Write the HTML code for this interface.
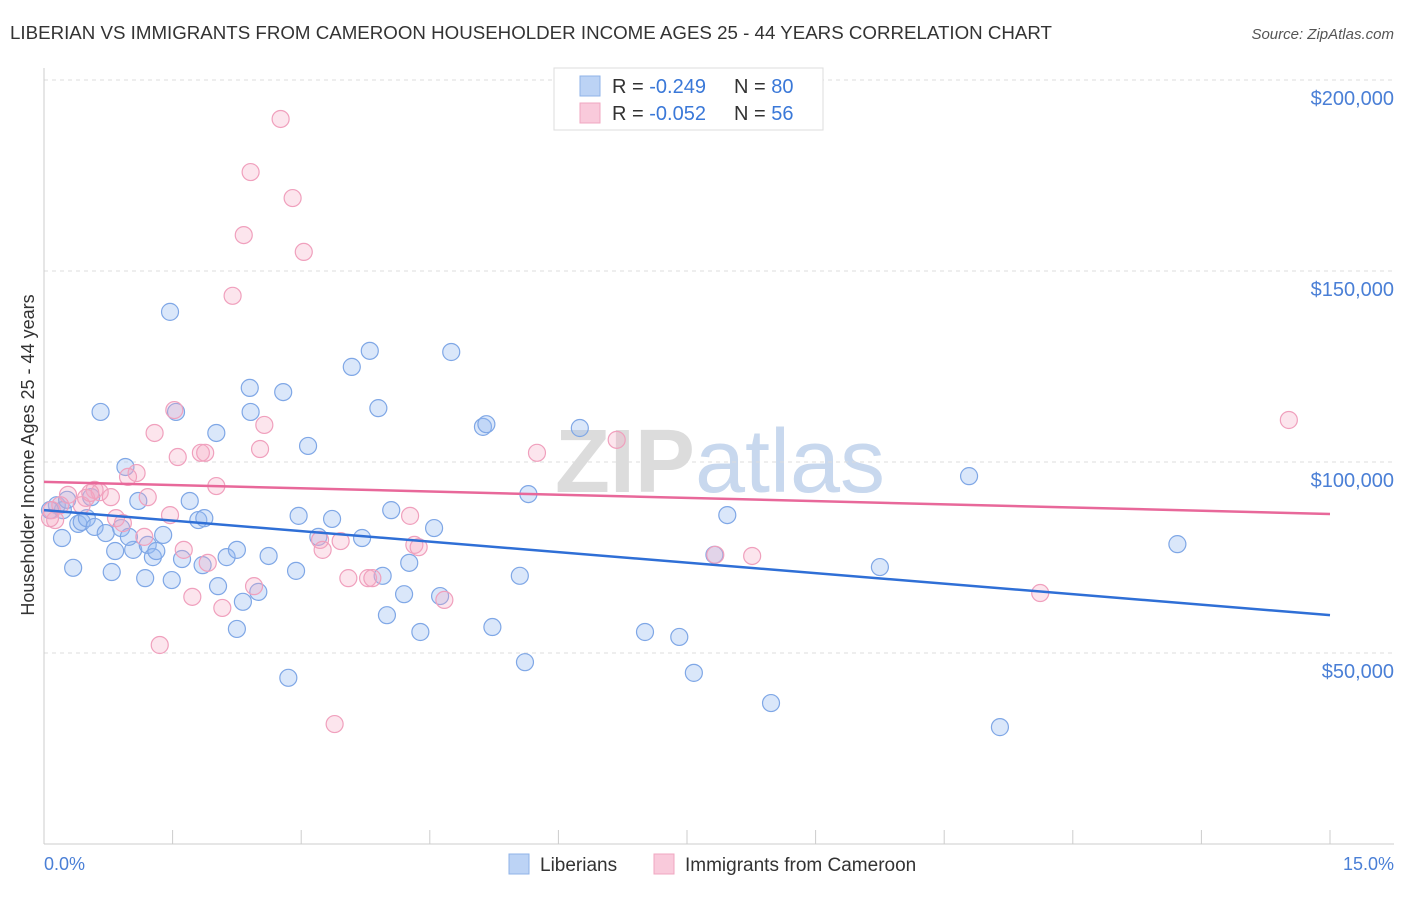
<!DOCTYPE html>
<html><head><meta charset="utf-8"><style>
body{margin:0;background:#fff;font-family:"Liberation Sans",sans-serif;}
svg text{font-family:"Liberation Sans",sans-serif;}
</style></head><body>
<svg id="chart" width="1406" height="892" xmlns="http://www.w3.org/2000/svg">
<text x="10" y="39" font-size="18" fill="#333" textLength="1042" lengthAdjust="spacingAndGlyphs">LIBERIAN VS IMMIGRANTS FROM CAMEROON HOUSEHOLDER INCOME AGES 25 - 44 YEARS CORRELATION CHART</text>
<text x="1394" y="39" font-size="15" fill="#555" font-style="italic" text-anchor="end">Source: ZipAtlas.com</text>
<text x="720" y="492" font-size="90" fill="#e4e4e4" text-anchor="middle" font-family="Liberation Serif"><tspan font-weight="bold" fill="#dcdcdc">ZIP</tspan><tspan fill="#c8d8ee" font-family="Liberation Sans">atlas</tspan></text>
<g id="grid"></g><g id="pts"></g><g id="lines"></g>
<text x="34" y="455" font-size="18" fill="#333" text-anchor="middle" transform="rotate(-90 34 455)">Householder Income Ages 25 - 44 years</text>
<text x="44" y="870" font-size="18" fill="#4a7fd6">0.0%</text>
<text x="1394" y="870" font-size="18" fill="#4a7fd6" text-anchor="end">15.0%</text>
<g>
<rect x="554" y="68" width="269" height="62" fill="#fff" stroke="#ddd"/>
<rect x="580" y="76" width="20" height="20" fill="#bcd3f5" stroke="#8fb3e8"/>
<rect x="580" y="103" width="20" height="20" fill="#f9cadb" stroke="#f0a7c0"/>
<text x="612" y="93" font-size="20" fill="#333">R = <tspan fill="#3a78d8">-0.249</tspan></text>
<text x="734" y="93" font-size="20" fill="#333">N = <tspan fill="#3a78d8">80</tspan></text>
<text x="612" y="120" font-size="20" fill="#333">R = <tspan fill="#3a78d8">-0.052</tspan></text>
<text x="734" y="120" font-size="20" fill="#333">N = <tspan fill="#3a78d8">56</tspan></text>
</g>
<g>
<rect x="509" y="854" width="20" height="20" fill="#bcd3f5" stroke="#8fb3e8"/>
<text x="540" y="871" font-size="19" fill="#333">Liberians</text>
<rect x="654" y="854" width="20" height="20" fill="#f9cadb" stroke="#f0a7c0"/>
<text x="685" y="871" font-size="19" fill="#333">Immigrants from Cameroon</text>
</g>
</svg>
<script>
const yTicks=[50000,100000,150000,200000];
const yTickLabels=["$50,000","$100,000","$150,000","$200,000"];
const blueX=[1.47,0.66,0.95,0.15,0.22,0.27,0.21,0.40,0.44,0.50,0.59,0.55,0.72,0.83,0.79,0.34,0.90,1.04,0.99,1.10,1.18,1.21,1.27,1.31,1.39,1.49,1.54,1.61,1.70,1.80,1.85,1.87,2.01,2.03,2.13,2.25,2.25,2.32,2.40,2.41,2.50,2.62,2.79,2.85,2.94,2.97,3.08,3.20,3.36,3.59,3.71,3.80,3.90,3.95,4.00,4.05,4.20,4.26,4.39,4.55,4.62,4.75,5.12,5.16,5.23,5.55,5.61,5.65,6.25,7.01,7.41,7.58,7.82,7.97,8.48,9.75,10.79,11.15,13.22,0.07];
const blueY=[139.3,113.1,98.7,88.7,87.4,90.1,80.1,83.8,84.3,85.3,83.0,90.8,81.4,76.7,71.2,72.3,82.7,77.0,80.4,89.8,69.6,78.3,75.1,76.7,80.9,69.1,113.1,74.6,89.8,84.8,73.0,85.3,107.6,67.5,75.1,77.0,56.3,63.4,119.4,113.1,66.0,75.4,118.3,43.5,71.5,85.9,104.2,80.4,85.1,124.9,80.1,129.1,114.1,70.2,59.9,87.4,65.4,73.6,55.5,82.7,64.9,128.8,109.2,109.9,56.8,70.2,47.6,91.6,108.9,55.5,54.2,44.8,75.7,86.1,36.9,72.5,96.3,30.6,78.5,87.4];
const pinkX=[2.76,2.41,2.90,2.33,3.03,2.20,1.52,1.29,1.56,1.83,1.88,2.57,2.52,1.08,0.98,0.59,0.65,0.78,0.28,0.19,0.09,0.13,0.49,0.84,0.92,1.21,1.47,1.17,1.63,1.73,1.91,2.01,2.08,2.45,3.22,3.25,3.46,3.55,3.78,3.83,4.27,4.32,4.37,4.67,5.75,6.68,7.83,8.26,11.62,14.52,3.39,1.35,0.07,0.44,0.54];
const pinkY=[189.8,175.9,169.1,159.4,155.0,143.5,113.6,107.6,101.3,102.4,102.4,109.7,103.4,97.1,96.1,92.7,92.1,90.8,91.4,88.7,87.4,84.8,90.6,85.3,84.0,90.8,86.1,80.4,77.0,64.7,73.6,93.7,61.8,67.5,79.6,77.0,79.3,69.6,69.6,69.6,85.9,78.3,77.7,63.9,102.4,105.8,75.7,75.4,65.7,111.0,31.4,52.1,85.3,88.7,91.9];
const blueTrend=[87.4,59.9];
const pinkTrend=[94.8,86.4];
const NS="http://www.w3.org/2000/svg";
const X=v=>44+v/15*1286;
const Y=v=>844-v/50*191;
function mk(t,a,p){const e=document.createElementNS(NS,t);for(const k in a)e.setAttribute(k,a[k]);p.appendChild(e);return e;}
const grid=document.getElementById('grid');
yTicks.forEach((t,i)=>{
 const l=mk('line',{x1:44,x2:1394,y1:Y(t/1000),y2:Y(t/1000),stroke:'#ddd','stroke-dasharray':'4,4'},grid);
 
 
 const tx=mk('text',{x:1394,y:Y(t/1000)+25,'font-size':20,fill:'#4a7fd6','text-anchor':'end'},grid);
 tx.textContent=yTickLabels[i];
 
 
});
const ax=mk('line',{x1:44,x2:1394,y1:844,y2:844,stroke:'#ccc'},grid);


mk('line',{x1:44,x2:44,y1:68,y2:844,stroke:'#ccc'},grid);
for(let i=1;i<=10;i++){const t=mk('line',{x1:X(i*1.5),x2:X(i*1.5),y1:830,y2:844,stroke:'#ccc'},grid);
 
 }
const pts=document.getElementById('pts');
function dots(xs,ys,fill,stroke,name){xs.forEach((x,i)=>{
 const c=mk('circle',{cx:X(x),cy:Y(ys[i]),r:8.5,fill:fill,stroke:stroke,'stroke-width':1.2},pts);
 
 });}
dots(blueX,blueY,'rgba(150,185,240,0.35)','#7fa7e6','liberian-point');
dots(pinkX,pinkY,'rgba(245,170,195,0.3)','#f0a0bd','cameroon-point');
const lines=document.getElementById('lines');
const b=mk('line',{x1:X(0),y1:Y(blueTrend[0]),x2:X(15),y2:Y(blueTrend[1]),stroke:'#2f6fd6','stroke-width':2.5},lines);


const p=mk('line',{x1:X(0),y1:Y(pinkTrend[0]),x2:X(15),y2:Y(pinkTrend[1]),stroke:'#e8689a','stroke-width':2.5},lines);


</script>
</body></html>
